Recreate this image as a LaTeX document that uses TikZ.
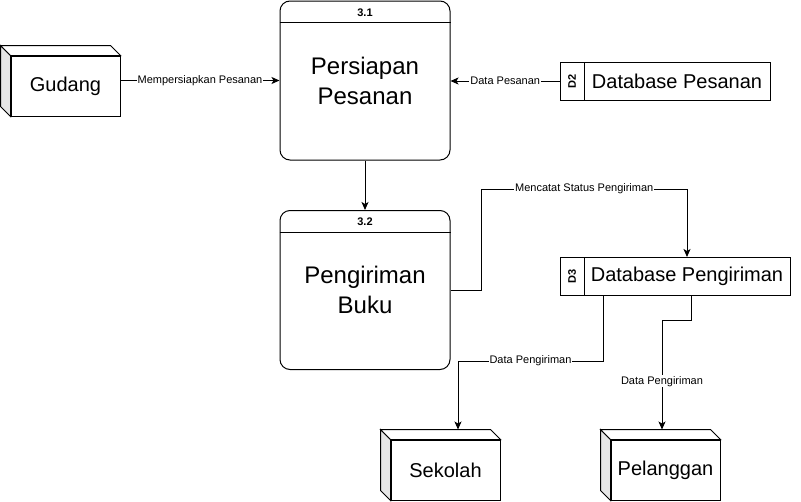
\documentclass[tikz,border=0pt]{standalone}
\usepackage{fontspec}
\setmainfont{Liberation Sans}
\usepackage{tikz}
\usetikzlibrary{arrows.meta, positioning, calc}
\definecolor{cubeside}{RGB}{230,230,230}
\tikzset{
  procnode/.style={rectangle,draw,line width=1pt,rounded corners=10pt,minimum width=170pt,minimum height=159pt,align=center,font=\fontsize{24}{30}\selectfont},
  cubenode/.style={rectangle,draw,line width=1pt,fill=white,minimum width=109pt,minimum height=60pt,font=\fontsize{20}{24}\selectfont},
  storenode/.style={rectangle,draw,line width=1pt,outer sep=0pt,minimum height=38pt,font=\fontsize{20}{24}\selectfont},
  storeid/.style={storenode,minimum width=24pt,font=\fontsize{11}{13}\selectfont\bfseries},
  idtext/.style={font=\fontsize{11}{13}\selectfont\bfseries},
  flow/.style={->,>={Stealth[length=8pt,width=7pt,inset=2pt]},line width=1pt},
  flowlbl/.style={fill=white,inner sep=1pt,font=\fontsize{11}{13}\selectfont},
}

\begin{document}
\begin{tikzpicture}[x=1pt,y=-1pt]
  \useasboundingbox (0,0) rectangle (801,501);
  \node[procnode] (p31) at (365,80.5) {Persiapan\\Pesanan};
  \node[procnode] (p32) at (365,290) {Pengiriman\\Buku};
  \node[cubenode] (gudang) at (65.5,86) {Gudang};
  \node[cubenode] (sekolah) at (445.5,470) {Sekolah};
  \node[cubenode] (pelanggan) at (665.5,470) {Pelanggan};
  \node[storenode,minimum width=186pt] (d2) at (677,81) {Database Pesanan};
  \node[storeid,left=0pt of d2] (d2id) {\rotatebox{90}{D2}};
  \node[storenode,minimum width=206pt] (d3) at (687,276) {Database Pengiriman};
  \node[storeid,left=0pt of d3] (d3id) {\rotatebox{90}{D3}};
  \foreach \p/\t in {p31/3.1,p32/3.2} {
    \draw[line width=1pt] ($(\p.north west)+(0,22)$) -- ($(\p.north east)+(0,22)$);
    \node[idtext] (\p-id) at ($(\p.north)+(0,12)$) {\t};
  }
  \foreach \c in {gudang,sekolah,pelanggan} {
    \draw[line width=1pt,fill=cubeside] (\c.north west) -- ++(-10,-10) -- ($(\c.south west)+(-10,-10)$) -- (\c.south west) -- cycle;
    \draw[line width=1pt,fill=white] (\c.north west) -- ++(-10,-10) -- ($(\c.north east)+(-10,-10)$) -- (\c.north east) -- cycle;
  }
  \draw[flow] (gudang.east |- p31.west) -- node[flowlbl] {Mempersiapkan Pesanan} (p31.west);
  \draw[flow] (d2id.west) -- node[flowlbl] {Data Pesanan} (p31.east |- d2id.west);
  \draw[flow] (p31.south) -- (p32.north);
  \draw[flow] (p32.east) -- ++(31,0) |- node[flowlbl,pos=0.75] {Mencatat Status Pengiriman} ($(d3.north)+(0,-68)$) -- (d3.north);
  \draw[flow] ($(d3.south west)+(19,0)$) -- ++(0,66) -| node[flowlbl,pos=0.25] {Data Pengiriman} ($(sekolah.north)+(12.5,-10)$);
  \draw[flow] ($(d3.south)+(4,0)$) -- ++(0,25) -| node[flowlbl,pos=0.78] {Data Pengiriman} ($(pelanggan.north)+(-3.5,-10)$);
\end{tikzpicture}
\end{document}
